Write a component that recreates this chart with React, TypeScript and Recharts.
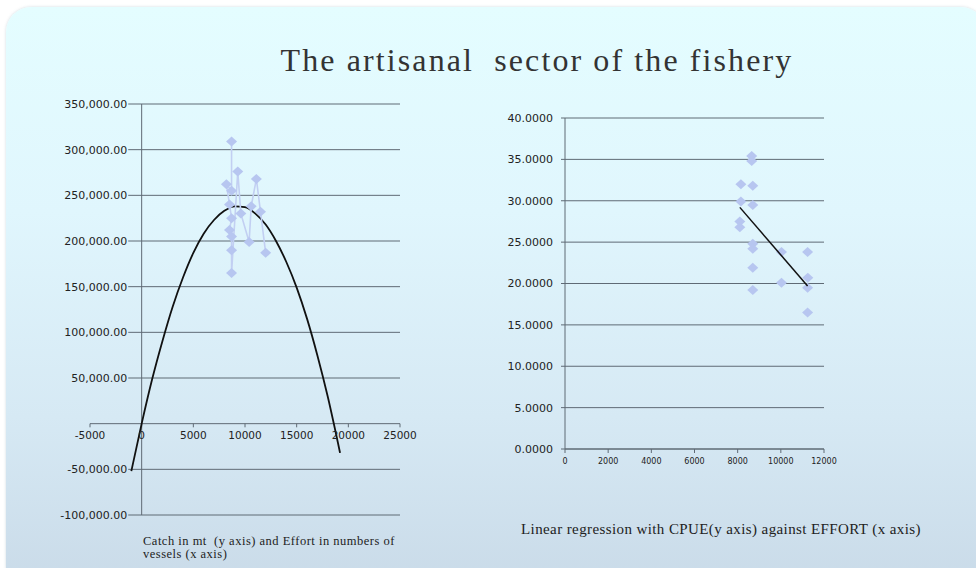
import React from 'react';
import {
  ScatterChart,
  Scatter,
  XAxis,
  YAxis,
  CartesianGrid,
  ReferenceLine,
} from 'recharts';

// Left panel: catch (mt) against effort (vessels), with the fitted parabola
const leftEffort = [8700, 8700, 8200, 8500, 8700, 8500, 8700, 8700, 8700, 9300, 9600, 10400, 10600, 11100, 11500, 12000];
const leftCatch = [309000, 255000, 262000, 240000, 225000, 212000, 205000, 190000, 165000, 276000, 230000, 199000, 238000, 268000, 232000, 187000];

const curveEffort = [-1000, 0, 1000, 2000, 3000, 4000, 5000, 6000, 7000, 8000, 9000, 10000, 11000, 12000, 13000, 14000, 15000, 16000, 17000, 18000, 19200];
const curveCatch = [-52000, 0, 48000, 90000, 128000, 160000, 187000, 208000, 223000, 233000, 238000, 237000, 230000, 218000, 200000, 177000, 149000, 115000, 75000, 30000, -32000];

const leftYTicks = [350000, 300000, 250000, 200000, 150000, 100000, 50000, -50000, -100000];
const leftXTicks = [-5000, 0, 5000, 10000, 15000, 20000, 25000];

// Right panel: CPUE against effort, with the regression line
const cpueEffort = [8650, 8650, 8150, 8700, 8150, 8700, 8100, 8100, 8700, 8700, 8700, 8700, 10030, 10030, 11240, 11250, 11240, 11240];
const cpueValues = [35.4, 34.8, 32.0, 31.8, 29.9, 29.5, 27.5, 26.8, 24.8, 24.2, 21.9, 19.2, 23.8, 20.1, 23.8, 20.7, 19.5, 16.5];

const regEffort = [8100, 11240];
const regCpue = [29.2, 19.7];

const rightYTicks = [0, 5, 10, 15, 20, 25, 30, 35, 40];
const rightXTicks = [0, 2000, 4000, 6000, 8000, 10000, 12000];

const zip = (xs: number[], ys: number[]) => xs.map((x, i) => ({ x, y: ys[i] }));

const leftPoints = zip(leftEffort, leftCatch);
const curvePoints = zip(curveEffort, curveCatch);
const cpuePoints = zip(cpueEffort, cpueValues);
const regPoints = zip(regEffort, regCpue);

const GRID = '#5f6a75';
const MARKER = '#b7c6f0';
const LABEL_FONT = 'DejaVu Sans';
const GRID_START = -1300; // gridlines begin right after the value labels

function Diamond(props: any) {
  const { cx, cy } = props;
  if (cx == null || cy == null) return <g />;
  return (
    <polygon
      points={`${cx},${cy - 5} ${cx + 5.5},${cy} ${cx},${cy + 5} ${cx - 5.5},${cy}`}
      fill={MARKER}
    />
  );
}

const NoDot = () => <g />;

const fmtCatch = (v: number) =>
  v.toLocaleString('en-US', { minimumFractionDigits: 2, maximumFractionDigits: 2 });

function LeftChart() {
  return (
    <ScatterChart
      width={420}
      height={540}
      margin={{ top: 104, right: 20, bottom: 25, left: 90 }}
    >
      <XAxis type="number" dataKey="x" domain={[-5000, 25000]} hide allowDataOverflow />
      <YAxis type="number" dataKey="y" domain={[-100000, 350000]} hide allowDataOverflow />

      {/* horizontal gridlines with their value labels */}
      {leftYTicks.map((t) => (
        <ReferenceLine
          key={`g${t}`}
          segment={[{ x: GRID_START, y: t }, { x: 25000, y: t }]}
          stroke={GRID}
          label={{
            value: fmtCatch(t),
            position: 'left',
            offset: 1,
            fill: '#222',
            fontSize: 11,
            fontFamily: LABEL_FONT,
          }}
        />
      ))}

      {/* axes crossing at the origin */}
      <ReferenceLine x={0} stroke={GRID} />
      <ReferenceLine y={0} stroke={GRID} />
      {leftXTicks.map((t) => (
        <ReferenceLine
          key={`t${t}`}
          segment={[{ x: t, y: 0 }, { x: t, y: -4000 }]}
          stroke={GRID}
          label={{
            value: String(t),
            position: 'bottom',
            offset: 4,
            fill: '#222',
            fontSize: 10.5,
            fontFamily: LABEL_FONT,
          }}
        />
      ))}

      <Scatter
        data={curvePoints}
        line={{ stroke: '#111', strokeWidth: 1.8 }}
        lineJointType="monotoneX"
        shape={NoDot}
        isAnimationActive={false}
      />
      <Scatter
        data={leftPoints}
        line={{ stroke: '#c2cff2', strokeWidth: 1.6 }}
        shape={Diamond}
        isAnimationActive={false}
      />
    </ScatterChart>
  );
}

function RightChart() {
  return (
    <ScatterChart
      width={380}
      height={430}
      margin={{ top: 58, right: 36, bottom: 11, left: 0 }}
    >
      <CartesianGrid vertical={false} stroke={GRID} />
      <XAxis
        type="number"
        dataKey="x"
        domain={[0, 12000]}
        ticks={rightXTicks}
        interval={0}
        height={30}
        tickSize={4}
        tickMargin={5}
        axisLine={{ stroke: GRID }}
        tickLine={{ stroke: GRID }}
        tick={{ fontSize: 8, fill: '#222', fontFamily: LABEL_FONT }}
      />
      <YAxis
        type="number"
        dataKey="y"
        domain={[0, 40]}
        ticks={rightYTicks}
        interval={0}
        width={85}
        tickSize={4}
        tickMargin={8}
        tickFormatter={(v: number) => v.toFixed(4)}
        axisLine={{ stroke: GRID }}
        tickLine={{ stroke: GRID }}
        tick={{ fontSize: 11, fill: '#222', fontFamily: LABEL_FONT }}
      />
      <Scatter data={cpuePoints} shape={Diamond} isAnimationActive={false} />
      <Scatter
        data={regPoints}
        line={{ stroke: '#111', strokeWidth: 1.5 }}
        shape={NoDot}
        isAnimationActive={false}
      />
    </ScatterChart>
  );
}

export default function App() {
  return (
    <div
      style={{
        position: 'absolute',
        left: 0,
        top: 0,
        width: 976,
        height: 568,
        background: '#fff',
        overflow: 'hidden',
      }}
    >
      <div
        style={{
          position: 'absolute',
          left: 6,
          top: 7,
          width: 980,
          height: 585,
          borderRadius: 25,
          background:
            'linear-gradient(180deg, #e4fdff 0%, #e0f6fd 35%, #d6e9f4 70%, #c9dae8 100%)',
          boxShadow: '0 0 3px rgba(120,150,170,0.35)',
        }}
      />
      <div
        style={{
          position: 'absolute',
          left: 237,
          top: 44,
          width: 600,
          textAlign: 'center',
          fontFamily: 'Liberation Serif, serif',
          fontSize: 32,
          lineHeight: '32px',
          letterSpacing: 2.1,
          color: '#333',
          whiteSpace: 'pre',
        }}
      >
        The artisanal  sector of the fishery
      </div>
      <div style={{ position: 'absolute', left: 0, top: 0 }}>
        <LeftChart />
      </div>
      <div style={{ position: 'absolute', left: 480, top: 60 }}>
        <RightChart />
      </div>
      <div
        style={{
          position: 'absolute',
          left: 143,
          top: 535,
          fontFamily: 'Liberation Serif, serif',
          fontSize: 12.5,
          lineHeight: '13px',
          letterSpacing: 0.5,
          color: '#222',
          whiteSpace: 'pre',
        }}
      >
        {'Catch in mt  (y axis) and Effort in numbers of\nvessels (x axis)'}
      </div>
      <div
        style={{
          position: 'absolute',
          left: 521,
          top: 520,
          fontFamily: 'Liberation Serif, serif',
          fontSize: 15,
          lineHeight: '18px',
          letterSpacing: 0.4,
          color: '#222',
          whiteSpace: 'pre',
        }}
      >
        Linear regression with CPUE(y axis) against EFFORT (x axis)
      </div>
    </div>
  );
}
